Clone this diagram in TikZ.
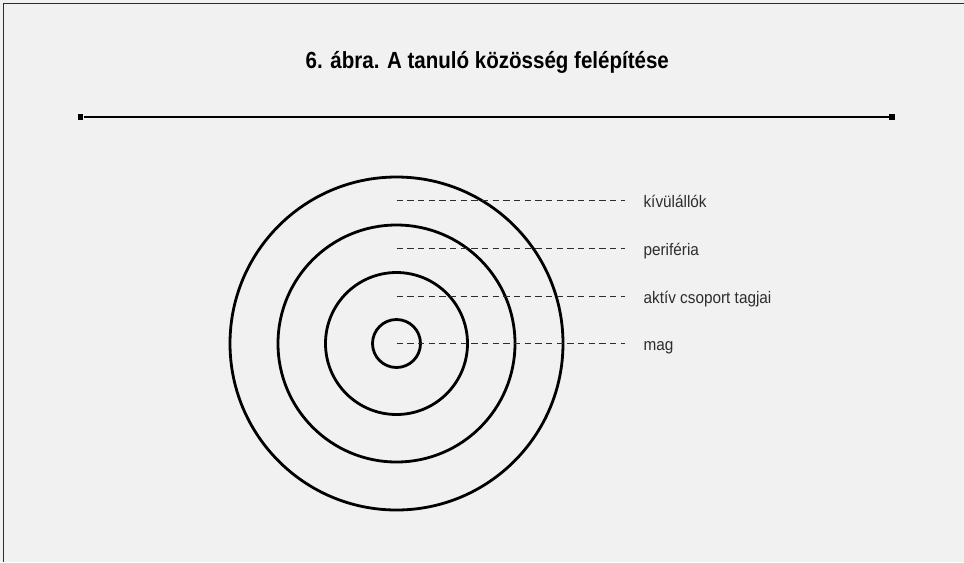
\documentclass[tikz,border=0pt]{standalone}
\usepackage{fontspec}
\setmainfont{Liberation Sans}
\newfontfamily\titlefont[FakeStretch=0.88]{Liberation Sans}
\newfontfamily\labelfont[FakeStretch=0.92]{Liberation Sans}
\usetikzlibrary{positioning}
\definecolor{pagebg}{RGB}{241,241,241}
\definecolor{inkgray}{RGB}{45,45,45}

\begin{document}
\begin{tikzpicture}[
    x=0.75pt, y=-0.75pt,
    ring/.style={line width=2.1pt, black},
    guide/.style={line width=0.8pt, inkgray, dash pattern=on 4.9pt off 3.1pt, shorten >=13.5pt},
    layer/.style={anchor=west, inner sep=0pt, text height=10.5pt, text depth=0pt, text=inkgray, font=\labelfont\fontsize{12.5}{14}\selectfont},
    endmark/.style={rectangle, fill=black, inner sep=0pt, minimum size=4.1pt}
]

% page
\fill[pagebg] (0,0) rectangle (964,562);
\useasboundingbox (0,0) rectangle (964,562);
\draw[line width=0.8pt, inkgray] (3.8,562) -- (3.8,3.8) -- (964,3.8);

% title and rule
\node[anchor=base, inner sep=0pt, font=\titlefont\bfseries\fontsize{17.5}{20}\selectfont] (title) at (487.3,68.3) {6. ábra. A tanuló közösség felépítése};
\node[endmark] (ruleL) at (80.5,117) {};
\node[endmark] (ruleR) at (892,117) {};
\draw[line width=1pt] (ruleL) -- (ruleR);

% rings
\coordinate (ctr) at (396.5,343.5);
\draw[ring] (ctr) circle (166.5);
\draw[ring] (ctr) circle (118.5);
\draw[ring] (ctr) circle (71);
\draw[ring] (ctr) circle (24);

% labels
\node[layer] (outside) at (643.3,200.7) {kívülállók};
\node[layer] (periph) at (643.3,248.7) {periféria};
\node[layer] (active) at (643.3,296.7) {aktív csoport tagjai};
\node[layer] (core) at (643.3,343.5) {mag};

\draw[guide] (ctr |- outside.west) -- (outside.west);
\draw[guide] (ctr |- periph.west) -- (periph.west);
\draw[guide] (ctr |- active.west) -- (active.west);
\draw[guide] (ctr) -- (core.west);

\end{tikzpicture}
\end{document}
